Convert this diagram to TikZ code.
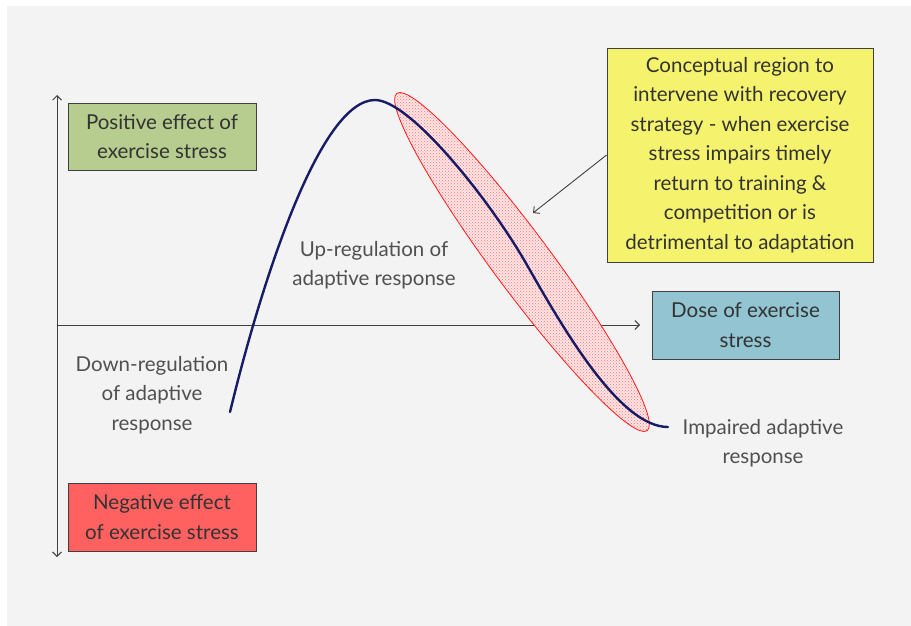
\documentclass[tikz,border=0pt]{standalone}
\usepackage{fontspec}
\setmainfont{Lato}
\usetikzlibrary{arrows.meta,patterns}
\definecolor{bg}{HTML}{F3F3F3}
\definecolor{boxgreen}{RGB}{183,204,143}
\definecolor{boxred}{RGB}{255,96,96}
\definecolor{boxblue}{RGB}{146,196,210}
\definecolor{boxyellow}{RGB}{245,243,110}
\definecolor{navy}{RGB}{22,28,102}
\definecolor{axisgray}{RGB}{64,64,64}
\definecolor{labelgray}{RGB}{80,80,80}
\begin{document}
\begin{tikzpicture}[x=1pt,y=-1pt,
  txt/.style={font=\fontsize{20.5}{29.5}\selectfont, align=center},
  box/.style={txt, draw=axisgray, line width=0.9pt, inner sep=0pt, text=black!80},
  lbl/.style={txt, text=labelgray},
  axis/.style={draw=axisgray, line width=0.9pt},
  curve/.style={draw=navy, line width=2.4pt},
  region/.style={draw=red!90, line width=0.8pt, pattern=crosshatch dots, pattern color=red!55},
  conn/.style={draw=axisgray, line width=0.9pt}]
\useasboundingbox (0,0) rectangle (911,626);
\fill[bg] (7,6) rectangle (911,626);

% axes
\coordinate (ytop) at (57,95);
\coordinate (ybot) at (57,557);
\coordinate (xorig) at (57,325);
\coordinate (xend) at (640,325);
\draw[axis, {Straight Barb[length=4.5pt,width=9pt]}-{Straight Barb[length=4.5pt,width=9pt]}] (ytop) -- (ybot);
\draw[axis, -{Straight Barb[length=4.5pt,width=9pt]}] (xorig) -- (xend);

% shaded region
\fill[red!10, rotate around={-53.4:(522,262)}] (522,262) ellipse [x radius=210, y radius=29];
\draw[region, rotate around={-53.4:(522,262)}] (522,262) ellipse [x radius=210, y radius=29];

% curve
\draw[curve, line cap=round] (230,412) .. controls (262,280) and (320,100) .. (375,100)
  .. controls (410,100) and (490,200) .. (527,265)
  .. controls (564,330) and (620,427) .. (668,427);

% boxes
\node[box, fill=boxgreen, minimum width=188pt, minimum height=67pt] (pos) at (162,136.5)
  {Positive effect of\\exercise stress};
\node[box, fill=boxred, minimum width=188pt, minimum height=68pt] (neg) at (162,517)
  {Negative effect\\of exercise stress};
\node[box, fill=boxblue, minimum width=187pt, minimum height=68pt] (dose) at (745.5,325)
  {Dose of exercise\\stress};
\node[box, fill=boxyellow, minimum width=266pt, minimum height=214pt] (yel) at (740,155)
  {Conceptual region to\\intervene with recovery\\strategy - when exercise\\stress impairs timely\\return to training \&\\competition or is\\detrimental to adaptation};

% labels
\node[lbl] (up) at (374,265) {Up-regulation of\\adaptive response};
\node[lbl] (down) at (152,395) {Down-regulation\\of adaptive\\response};
\node[lbl] (imp) at (763,443) {Impaired adaptive\\response};

% pointer
\coordinate (tip) at (533,213);
\draw[conn, -{Straight Barb[length=4.5pt,width=9pt]}] (yel.west) -- (tip);
\end{tikzpicture}
\end{document}
